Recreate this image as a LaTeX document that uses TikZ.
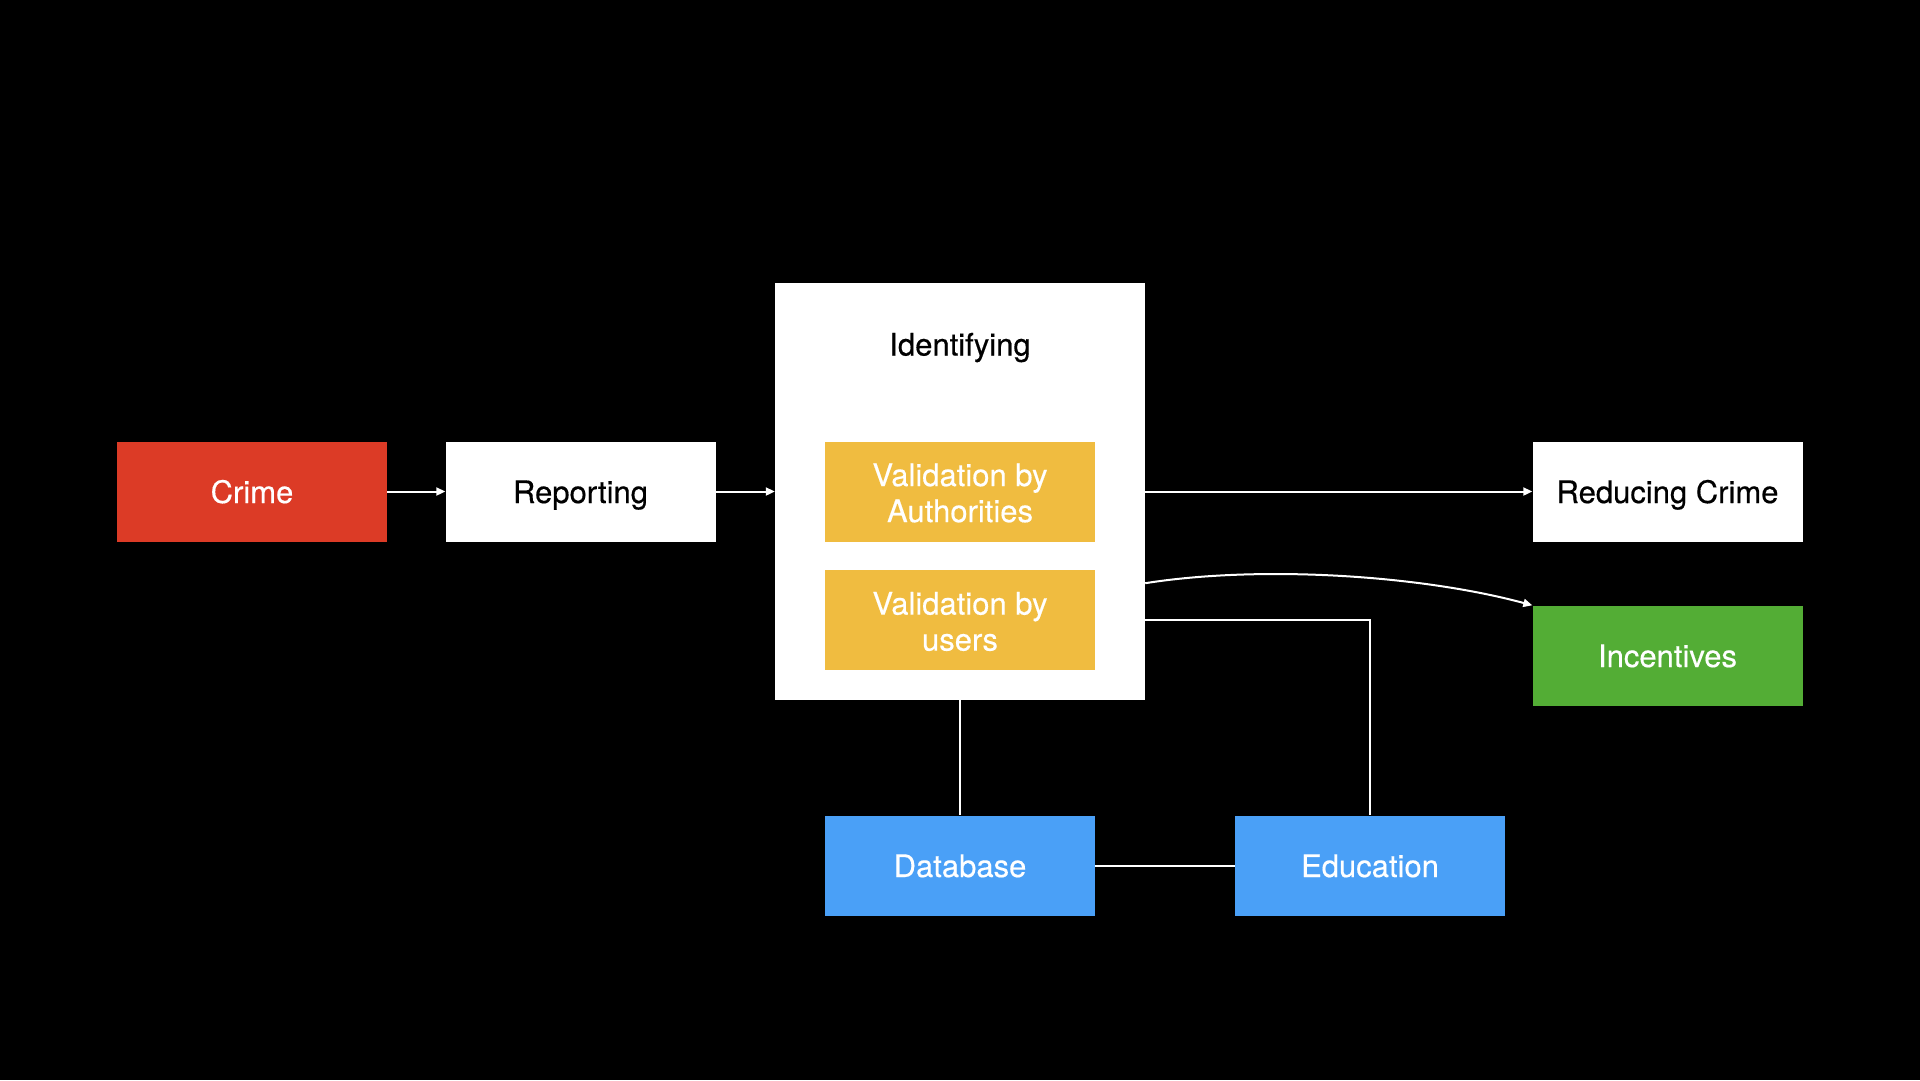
\documentclass[tikz,border=0pt]{standalone}
\usepackage{fontspec}
\setmainfont{TeX Gyre Heros}[FakeBold=0.4]
\usetikzlibrary{arrows.meta,calc}
\definecolor{crimered}{RGB}{220,59,38}
\definecolor{valyellow}{RGB}{240,188,64}
\definecolor{incgreen}{RGB}{83,173,53}
\definecolor{dbblue}{RGB}{74,160,247}
\tikzset{
  box/.style={rectangle, inner sep=0pt, minimum width=270pt, minimum height=100pt,
    align=center, font=\fontsize{31}{36}\selectfont},
  oneline/.style={text height=26pt, text depth=3pt},
  whitebox/.style={box, fill=white, text=black},
  redbox/.style={box, fill=crimered, text=white},
  yellowbox/.style={box, fill=valyellow, text=white},
  greenbox/.style={box, fill=incgreen, text=white},
  bluebox/.style={box, fill=dbblue, text=white},
  conn/.style={draw=white, line width=2pt},
  arr/.style={conn, -{Triangle[length=9pt,width=8pt]}}
}
\begin{document}
\begin{tikzpicture}[x=1pt,y=-1pt]
\fill[black] (0,0) rectangle (1920,1080);
\useasboundingbox (0,0) rectangle (1920,1080);
\node[rectangle, fill=white, inner sep=0pt, minimum width=370pt, minimum height=417pt] (ident) at (960,491.5) {};
\node[font=\fontsize{31}{36}\selectfont, text=black, oneline] (identtxt) at (960,344) {Identifying};
\node[redbox, oneline] (crime) at (252,491.5) {Crime};
\node[whitebox, oneline] (rep) at (580.5,491.5) {Reporting};
\node[yellowbox] (vala) at (960,491.5) {};
\node[yellowbox] (valu) at (960,620) {};
\node[font=\fontsize{31}{36}\selectfont, text=white, align=center] (valatxt) at (960,493) {Validation by\\Authorities};
\node[font=\fontsize{31}{36}\selectfont, text=white, align=center] (valutxt) at (960,621.5) {Validation by\\users};
\node[whitebox, oneline] (red) at (1667.5,491.5) {Reducing Crime};
\node[greenbox, oneline] (inc) at (1667.5,655.5) {Incentives};
\node[bluebox, oneline] (db) at (960,865.5) {Database};
\node[bluebox, oneline] (edu) at (1370,865.5) {Education};
\coordinate (cs) at ($(ident.south east)+(0,-117)$);
\draw[arr] (crime) -- (rep);
\draw[arr] (rep) -- (ident);
\draw[arr] (ident) -- (red);
\draw[arr] (cs) .. controls (1260,565) and (1420,575) .. (inc.north west);
\draw[conn] (valu.east -| ident.east) -| (edu.north);
\draw[conn] (ident.south) -- (db.north);
\draw[conn] (db.east) -- (edu.west);
\end{tikzpicture}
\end{document}
